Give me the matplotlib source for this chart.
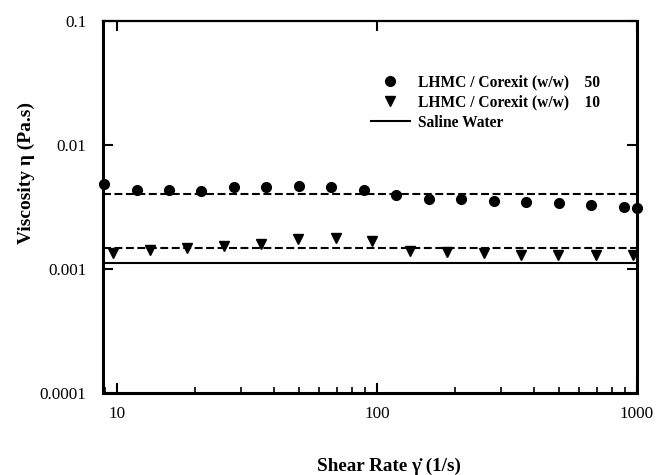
"""Viscosity vs shear rate: LHMC / Corexit blends and saline water."""
import matplotlib
matplotlib.use("Agg")
import matplotlib.pyplot as plt
from matplotlib.ticker import FixedLocator, FixedFormatter, LogLocator, NullFormatter

plt.rcParams["font.family"] = ["Liberation Serif", "DejaVu Serif"]

# data
rate_50 = [8.9, 11.9, 15.8, 21.1, 28.1, 37.5, 50, 66.7, 88.9,
           118.6, 158, 211, 281, 375, 500, 667, 889, 1000]
visc_50 = [0.00488, 0.00436, 0.00436, 0.00425, 0.00457, 0.00457, 0.00472, 0.00457, 0.00436,
           0.00397, 0.00372, 0.00372, 0.00352, 0.00350, 0.00341, 0.00331, 0.00320, 0.00314]
rate_10 = [9.65, 13.4, 18.6, 25.8, 35.9, 49.8, 69.3, 95.9,
           133.6, 185.5, 258, 359, 498, 693, 966]
visc_10 = [0.00135, 0.00144, 0.00147, 0.00153, 0.00160, 0.00174, 0.00179, 0.00168,
           0.00139, 0.00138, 0.00134, 0.00131, 0.00129, 0.00129, 0.00129]
fit_50 = 0.00404
fit_10 = 0.00147
saline = 0.00113

y_ticks = [0.0001, 0.001, 0.01, 0.1]
y_labels = ["0.0001", "0.001", "0.01", "0.1"]
x_ticks = [10, 100, 1000]
x_labels = ["10", "100", "1000"]

fig = plt.figure(figsize=(6.56, 4.75), dpi=100)
ax = fig.add_axes([0.157, 0.1726, 0.814, 0.7822])

ax.axhline(fit_50, color="k", lw=1.5, dashes=(3.8, 1.7))
ax.axhline(fit_10, color="k", lw=1.5, dashes=(3.8, 1.7))
ax.plot(rate_50, visc_50, "o", color="k", ms=7, clip_on=False,
        label="LHMC / Corexit (w/w)    50")
ax.plot(rate_10, visc_10, "v", color="k", ms=7.5, clip_on=False,
        label="LHMC / Corexit (w/w)    10")
ax.axhline(saline, color="k", lw=1.5, label="Saline Water")

ax.set_xscale("log")
ax.set_yscale("log")
ax.set_xlim(8.83, 1000)
ax.set_ylim(0.0001, 0.1)

ax.xaxis.set_major_locator(FixedLocator(x_ticks))
ax.xaxis.set_major_formatter(FixedFormatter(x_labels))
ax.xaxis.set_minor_locator(LogLocator(base=10, subs=range(2, 10)))
ax.xaxis.set_minor_formatter(NullFormatter())
ax.yaxis.set_major_locator(FixedLocator(y_ticks))
ax.yaxis.set_major_formatter(FixedFormatter(y_labels))
ax.yaxis.set_minor_locator(FixedLocator([]))

ax.tick_params(which="major", direction="in", length=7.5, width=1.5,
               top=True, right=True, labelsize=12.3)
ax.tick_params(axis="x", which="major", pad=9)
ax.tick_params(axis="y", which="major", pad=12)
ax.tick_params(which="minor", direction="in", length=4.3, width=1.2,
               top=False, right=False)

for side in ["left", "bottom", "right"]:
    ax.spines[side].set_linewidth(2.2)
ax.spines["top"].set_linewidth(1.6)

ax.set_xlabel("Shear Rate \u03b3\u0307 (1/s)", fontsize=13.8, fontweight="bold")
ax.set_ylabel("Viscosity \u03b7 (Pa.s)", fontsize=14, fontweight="bold")
ax.xaxis.set_label_coords(0.536, -0.175)
ax.yaxis.set_label_coords(-0.128, 0.592)

leg = ax.legend(loc="upper left", bbox_to_anchor=(0.487, 0.878), frameon=False,
                prop={"weight": "bold", "size": 11.2}, handlelength=2.5,
                handletextpad=0.55, labelspacing=0.26, borderpad=0, numpoints=1)

fig.savefig("out.png", dpi=100)
